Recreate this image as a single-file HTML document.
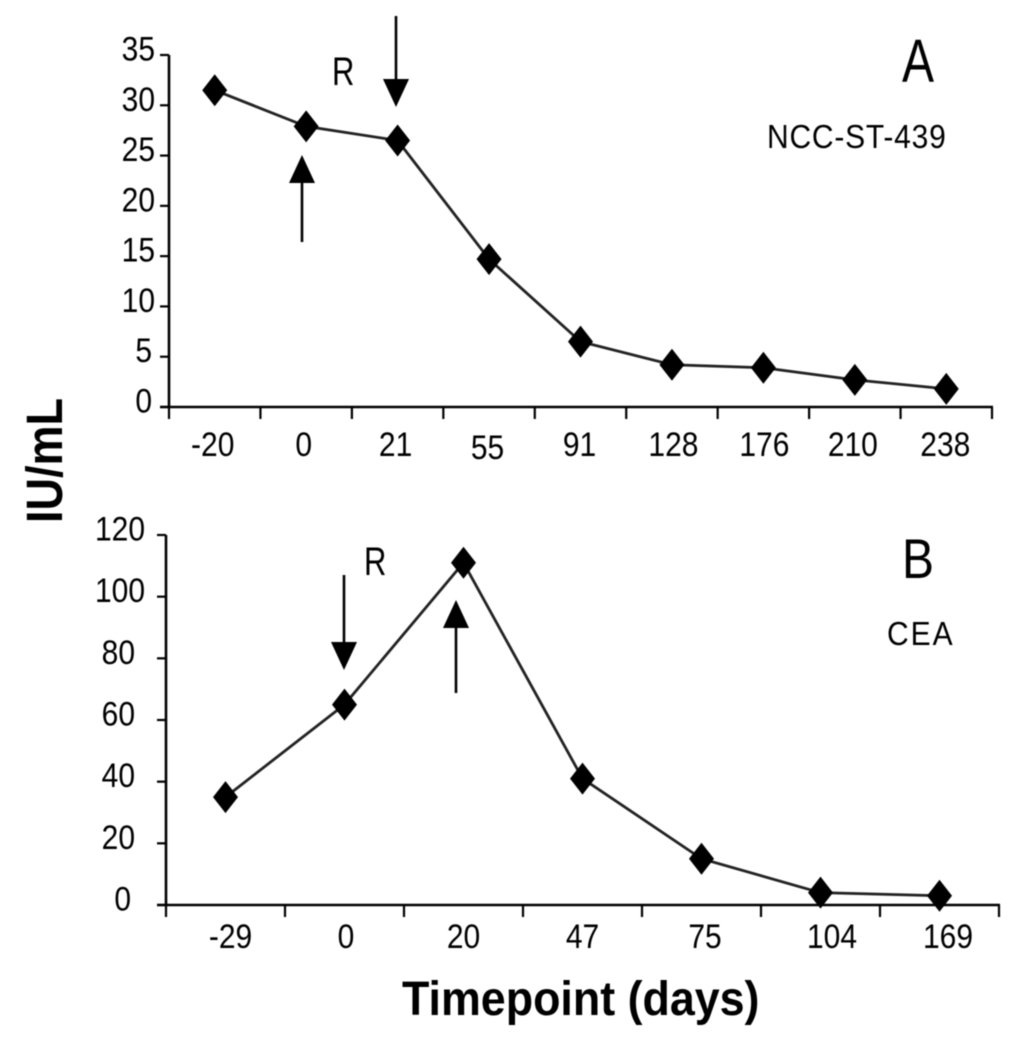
<!DOCTYPE html>
<html>
<head>
<meta charset="utf-8">
<title>Timepoint chart</title>
<style>
html,body{margin:0;padding:0;background:#fff;width:1024px;height:1038px;overflow:hidden}
svg{display:block;filter:blur(0.6px)}
text{font-family:"Liberation Sans",sans-serif;fill:#000}
</style>
</head>
<body>
<svg id="chart" width="1024" height="1038" viewBox="0 0 1024 1038" xmlns="http://www.w3.org/2000/svg"></svg>
<script>
const categoriesA = ['-20','0','21','55','91','128','176','210','238'];
const valuesA = [31.5,27.9,26.5,14.7,6.5,4.2,3.9,2.7,1.8];
const yTicksA = [0,5,10,15,20,25,30,35];
const categoriesB = ['-29','0','20','47','75','104','169'];
const valuesB = [35,65,111,41,15,4,3];
const yTicksB = [0,20,40,60,80,100,120];

const svg = document.getElementById('chart');
const NS = 'http://www.w3.org/2000/svg';
function add(tag, attrs, parent, text){
  const el = document.createElementNS(NS, tag);
  for (const k in attrs) el.setAttribute(k, attrs[k]);
  if (text !== undefined) el.textContent = text;
  (parent || svg).appendChild(el);
  return el;
}
function stretched(parent, x, y, size, str, anchor, sy, extra){
  const attrs = Object.assign({
    'font-size': size,
    'text-anchor': anchor,
    transform: 'translate(' + x + ',' + y + ') scale(1,' + sy + ')'
  }, extra || {});
  return add('text', attrs, parent, str);
}
function drawPanel(p, cats, vals, ticks){
  const g = add('g', {});
  
  
  const band = (p.x1 - p.x0) / cats.length;
  const sx = i => p.x0 + band * (i + 0.5);
  const sy = v => p.y0 - (v / p.max) * (p.y0 - p.y1);

  const yAxis = add('line', {x1:p.x0,x2:p.x0,y1:p.y1,y2:p.y0,stroke:'#000','stroke-width':2.6}, g);
  
  
  const xAxis = add('line', {x1:p.x0-9,x2:p.x1+1,y1:p.y0,y2:p.y0,stroke:'#000','stroke-width':2.6}, g);
  
  

  ticks.forEach(t => {
    const tick = add('line', {x1:p.x0-9,x2:p.x0,y1:sy(t),y2:sy(t),stroke:'#000','stroke-width':2.2}, g);
    
    
    const text = String(t);
    const label = stretched(g, p.labelRight[text.length], sy(t) + 5.5, 30, text, 'end', 1.13);
    
    
  });
  for (let i = 0; i <= cats.length; i++){
    const x = p.x0 + band * i;
    const tick = add('line', {x1:x,x2:x,y1:p.y0,y2:p.y0+12,stroke:'#000','stroke-width':2.2}, g);
    
    
  }
  cats.forEach((c, i) => {
    const dy = (p.name === 'panel-a' && c === '55') ? 3 : 0;
    const label = stretched(g, sx(i) + (p.labelNudge[i] || 0), p.labelY + dy, 30, c, 'middle', 1.13);
    
    
  });

  const line = add('polyline', {
    points: vals.map((v, i) => sx(i) + ',' + sy(v)).join(' '),
    fill:'none', stroke:'#222', 'stroke-width':2.8
  }, g);
  
  

  vals.forEach((v, i) => {
    const x = sx(i), y = sy(v);
    const point = add('polygon', {
      points: x + ',' + (y-16) + ' ' + (x+12.5) + ',' + y + ' ' + x + ',' + (y+16) + ' ' + (x-12.5) + ',' + y,
      fill:'#000'
    }, g);
    
    
  });

  return {sx, sy, g};
}
function arrow(g, name, x, yTail, yTip){
  const dir = yTip > yTail ? 1 : -1;
  const a = add('g', {}, g);
  
  
  add('line', {x1:x,x2:x,y1:yTail,y2:yTip-dir*20,stroke:'#000','stroke-width':2.6}, a);
  add('polygon', {points:(x-13)+','+(yTip-dir*28)+' '+(x+13)+','+(yTip-dir*28)+' '+x+','+yTip,fill:'#000'}, a);
}
function label(name, x, y, size, str, sy, extra){
  const t = stretched(svg, x, y, size, str, 'start', sy, extra);
  
  
  return t;
}

const a = drawPanel({
  name:'panel-a',x0:169,x1:992,y0:407,y1:55,max:35,labelY:456,
  labelRight:{1:152,2:155},
  labelNudge:[-2,-2.5,-2,-1.5,-1,1.5,1,-2,-1]
}, categoriesA, valuesA, yTicksA);
const b = drawPanel({
  name:'panel-b',x0:166,x1:999,y0:905,y1:535,max:120,labelY:948,
  labelRight:{1:131,2:135,3:145},
  labelNudge:[5,1.5,0,0,3.5,11.5,8.5]
}, categoriesB, valuesB, yTicksB);

arrow(a.g, 'arrow-down-a', 396, 16, 107);
arrow(a.g, 'arrow-up-a', 302, 242, 155);
arrow(b.g, 'arrow-down-b', 344, 575, 670);
arrow(b.g, 'arrow-up-b', 456, 693, 600);

label('annotation-r-a', 332, 85, 31, 'R', 1.3);
label('annotation-r-b', 364, 575, 31, 'R', 1.3);
label('panel-letter-a', 902, 82, 48, 'A', 1.27);
label('panel-letter-b', 902, 578, 48, 'B', 1.15);
label('series-name-a', 767, 148, 30, 'NCC-ST-439', 1.1, {'letter-spacing':'0.8'});
label('series-name-b', 887, 645, 30, 'CEA', 1.1, {'letter-spacing':'2'});
label('x-axis-title', 402, 1015, 44.8, 'Timepoint (days)', 1.07, {'font-weight':'bold'});
const yTitle = add('text', {
  'font-size': 45,
  'font-weight': 'bold',
  transform: 'translate(62,523) rotate(-90) scale(1,1.14)'
}, svg, 'IU/mL');


</script>
</body>
</html>
